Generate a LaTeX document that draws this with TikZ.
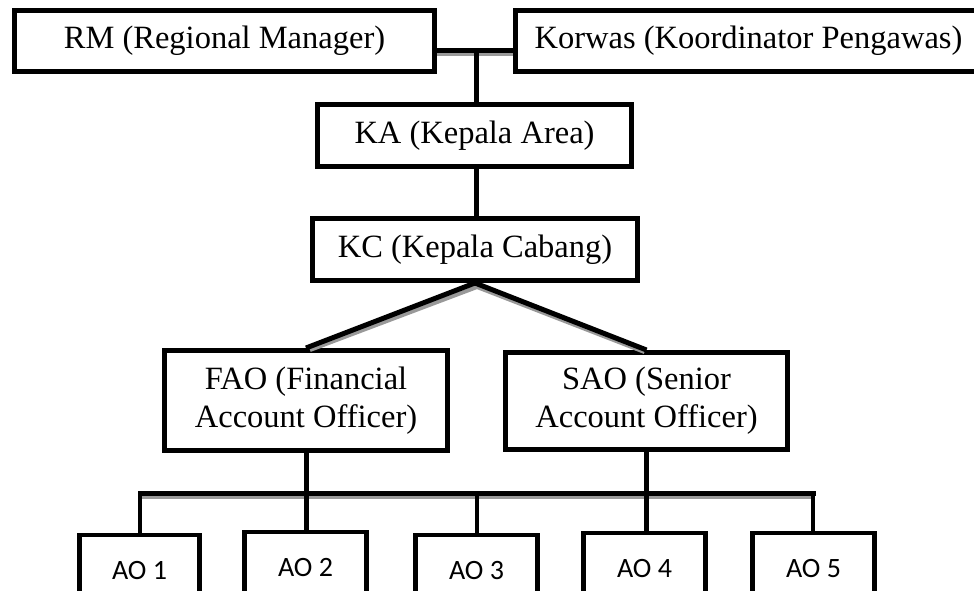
\documentclass[tikz,border=0pt]{standalone}
\usepackage{fontspec}
\setmainfont{Liberation Serif}
\newfontfamily\aofont{Carlito}
\usetikzlibrary{calc}
\tikzset{
  box/.style={draw=black, line width=4.8pt, fill=white, inner sep=0pt, align=center,
    font=\fontsize{32.5}{38}\selectfont},
  aobox/.style={draw=black, line width=4.8pt, fill=white, inner sep=0pt,
    minimum width=122pt, minimum height=70pt, font=\aofont\fontsize{28}{32}\selectfont},
  conn/.style={draw=black, line width=5pt},
  shade/.style={draw=black!40, line width=4pt}
}
\begin{document}
\begin{tikzpicture}[x=1pt,y=-1pt]
\useasboundingbox (0,0) rectangle (974,590);
\clip (0,0) rectangle (974,590);
% shadows and connectors first
\coordinate (top) at (476,50);
\coordinate (busL) at (140,493);
\coordinate (busR) at (813,493);
% boxes
\node[box, minimum width=420.2pt, minimum height=61.2pt] (rm) at (224.5,41) {RM (Regional Manager)};
\node[box, minimum width=466.2pt, minimum height=61.2pt] (korwas) at (748.5,41) {Korwas (Koordinator Pengawas)};
\node[box, minimum width=314.2pt, minimum height=62.2pt] (ka) at (474.5,135.5) {KA (Kepala Area)};
\node[box, minimum width=325.2pt, minimum height=62.2pt] (kc) at (475,249.5) {KC (Kepala Cabang)};
\node[box, minimum width=283.2pt, minimum height=100.2pt] (fao) at (306,400.5) {FAO (Financial\\Account Officer)};
\node[box, minimum width=282.2pt, minimum height=97.2pt] (sao) at (646.5,401) {SAO (Senior\\Account Officer)};
\node[aobox, minimum width=120.2pt] (ao1) at (139.5,570) {AO 1};
\node[aobox, minimum width=122.2pt] (ao2) at (305.5,567) {AO 2};
\node[aobox, minimum width=122.2pt] (ao3) at (476.5,570) {AO 3};
\node[aobox, minimum width=122.2pt] (ao4) at (644.5,568) {AO 4};
\node[aobox, minimum width=122.2pt] (ao5) at (813.5,568) {AO 5};
% shadows
\path[shade] ($(rm.east)+(0,13)$) -- ($(korwas.west)+(0,13)$);
\path[shade] ($(kc.south)+(2,4)$) -- ($(fao.north)+(4,2)$);
\path[shade] ($(kc.south)+(2,4)$) -- ($(sao.north)+(-2,2)$);
\path[shade] ($(busL)+(2,4)$) -- ($(busR)+(0,4)$);
% connectors
\path[conn] (rm.east |- top) -- (korwas.west |- top);
\path[conn] (top) -- (ka.north -| top);
\path[conn] (ka.south -| top) -- (kc.north -| top);
\path[conn] (kc.south) -- (fao.north);
\path[conn] (kc.south) -- (sao.north);
\path[conn] (fao.south) -- (fao.south |- ao2.north);
\path[conn] (sao.south) -- (sao.south |- ao4.north);
\path[conn, line cap=rect] (busL) -- (busR);
\path[conn, line width=4pt] (busL) -- (ao1.north -| busL);
\path[conn, line width=4pt] (ao3.north |- busL) -- (ao3.north);
\path[conn, line width=4pt] (busR) -- (ao5.north -| busR);
\end{tikzpicture}
\end{document}
